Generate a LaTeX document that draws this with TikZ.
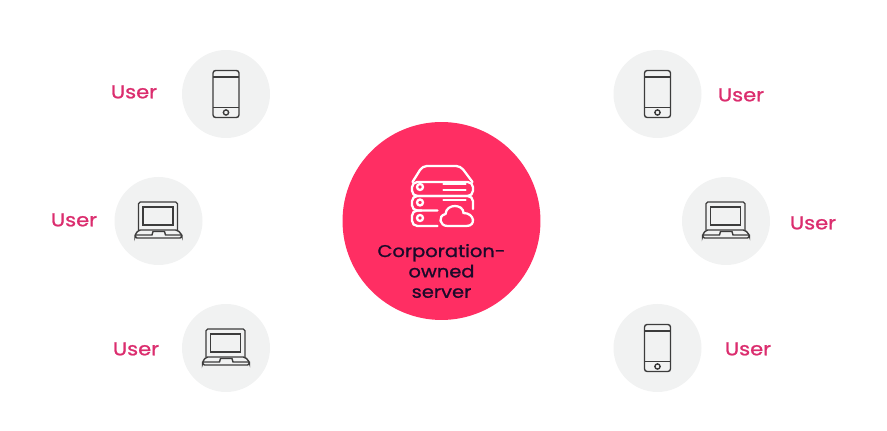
\documentclass[tikz,border=0pt]{standalone}
\usepackage{fontspec}
\setmainfont{Poppins}[FakeStretch=1.14,FakeBold=1.1]
\usetikzlibrary{positioning}
\definecolor{serverred}{HTML}{FF2E63}
\definecolor{userpink}{HTML}{DB2D6E}
\definecolor{devicegray}{HTML}{F1F2F2}
\definecolor{iconline}{HTML}{3C3C3C}
\definecolor{serverink}{HTML}{1C0A2A}
\def\devicesize{88}
\tikzset{
    phone icon/.pic={
        \draw[iconline,line width=0.8pt,rounded corners=1.5] (-13,-23.5) rectangle (13,23.5);
        \draw[iconline,line width=0.8pt] (-13,-17) -- (13,-17) (-13,13.5) -- (13,13.5);
        \draw[iconline,line width=0.8pt] (0,18.5) circle (2.6);
    },
    laptop icon/.pic={
        \draw[iconline,line width=0.8pt,rounded corners=1] (-20,9) -- (-20,-19) -- (19,-19) -- (19,9);
        \draw[iconline,line width=0.8pt] (-15.5,-14) rectangle (14.5,4);
        \draw[iconline,line width=0.8pt,rounded corners=1] (-20,9) -- (-23.5,14) -- (-23.5,17) -- (23.5,17) -- (23.5,14) -- (19,9) -- cycle;
        \draw[iconline,line width=0.8pt] (-23.5,14) -- (-6.5,14) -- (-5.5,10.5) -- (6,10.5) -- (7,14) -- (23.5,14);
    },
    server icon/.pic={
        % Draw the rack
        \draw[white,line width=1.3pt,line cap=round,rounded corners=2.5]
            (-29,-39) -- (-19,-55) -- (19,-55) -- (31,-39);
        \draw[white,line width=1.3pt,rounded corners=3] (-29.5,-39) rectangle (31.5,-25);
        \draw[white,line width=1.3pt,line cap=round,rounded corners=3]
            (-4,-10.5) -- (-29.5,-10.5) -- (-29.5,-25) -- (31.5,-25) -- (31.5,-12);
        \draw[white,line width=1.3pt,line cap=round,rounded corners=3]
            (-4,5) -- (-29.5,5) -- (-29.5,-10.5) -- (-20,-10.5);
        \foreach \y in {-34,-18.5,-3}
            \draw[white,line width=1.3pt] (-21.5,\y) circle (3);
        \draw[white,line width=1.3pt,line cap=round]
            (2,-37) -- (24,-37) (2,-31) -- (24,-31) (2,-21) -- (24,-21);
        % Draw the cloud
        \draw[white,line width=1.3pt]
            (6,5) .. controls (-2,5) and (-4,-5) .. (4,-7)
            .. controls (5,-18) and (22,-17) .. (22,-8)
            .. controls (33,-8) and (35,5) .. (25,5) -- cycle;
    }
}
\begin{document}
\begin{tikzpicture}[x=0.02cm,y=-0.02cm]
    \tikzstyle{device}=[circle,fill=devicegray,minimum size=\devicesize*0.02cm,inner sep=0pt]
    \tikzstyle{user}=[text=userpink,font=\fontsize{10.5}{12}\selectfont]
    \tikzstyle{server}=[circle,fill=serverred,minimum size=3.96cm,inner sep=0pt]
    \tikzstyle{annot}=[text=serverink,align=center,font=\fontsize{9.7}{11.6}\selectfont]

    \useasboundingbox (0,0) rectangle (887,431);

    % Draw the server in the middle
    \node[server] (S) at (441.5,221) {};
    \pic at (S) {server icon};
    \node[annot] (sl) at (441.5,271) {Corporation-\\owned\\server};

    % Draw the device circles
    \foreach \name/\x/\y/\icon in {D-1/226/94/phone, D-2/158.5/221/laptop, D-3/226/348/laptop,
                                   D-4/657.5/94/phone, D-5/726/221/laptop, D-6/657.5/348/phone}
    {
        \node[device] (\name) at (\x,\y) {};
        \pic at (\name) {\icon\space icon};
    }

    % Annotate the users
    \foreach \name/\x/\y in {U-1/134/92, U-2/74/220, U-3/136/349,
                             U-4/741/95, U-5/813/223, U-6/748/349}
        \node[user] (\name) at (\x,\y) {User};
\end{tikzpicture}
\end{document}
